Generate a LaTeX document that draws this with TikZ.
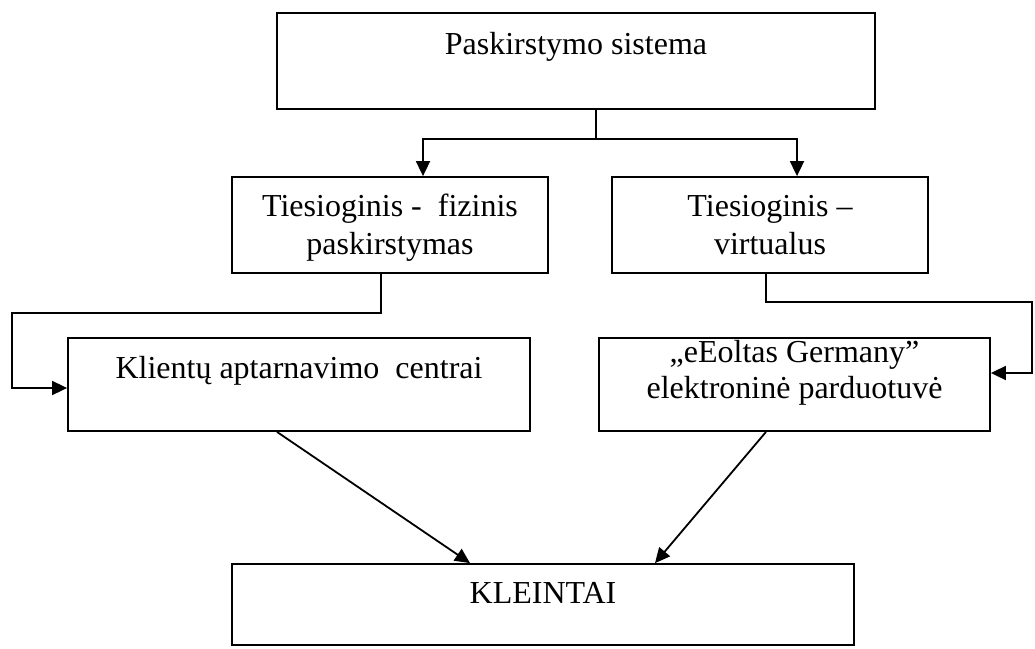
\documentclass[tikz,border=0pt]{standalone}
\usepackage{fontspec}
\setmainfont{Liberation Serif}
\usetikzlibrary{arrows.meta}

\tikzset{
  box/.style={draw, line width=1.8pt, rectangle, inner sep=0pt},
  % multi-line labels sit on the baseline of their last line
  lbl/.style={inner sep=0pt, anchor=base, align=center,
              font=\fontsize{32}{37.5}\selectfont},
  wire/.style={line width=1.8pt},
  arr/.style={line width=1.8pt, -{Triangle[length=15pt,width=14pt]}}
}

\begin{document}
\begin{tikzpicture}[x=1pt,y=-1pt]
\useasboundingbox (0,0) rectangle (1035,648);

% boxes
\node[box, minimum width=598pt, minimum height=96pt] (sys)  at (576,61)    {};
\node[box, minimum width=316pt, minimum height=96pt] (fiz)  at (390,225)   {};
\node[box, minimum width=316pt, minimum height=96pt] (virt) at (770,225)   {};
\node[box, minimum width=462pt, minimum height=93pt] (klc)  at (299,384.5) {};
\node[box, minimum width=391pt, minimum height=93pt] (shop) at (794.5,384.5) {};
\node[box, minimum width=622pt, minimum height=81pt] (kl)   at (543,604.5) {};

% labels
\node[lbl] (sysT)  at (576,54)  {Paskirstymo sistema};
\node[lbl] (fizT)  at (390,254) {Tiesioginis -~ fizinis\\paskirstymas};
\node[lbl] (virtT) at (770,254) {Tiesioginis –\\virtualus};
\node[lbl] (klcT)  at (299,378) {Klientų aptarnavimo~ centrai};
\node[lbl, font=\fontsize{32}{36}\selectfont] (shopT) at (794.5,398)
  {„eEoltas Germany”\\elektroninė parduotuvė};
\node[lbl] (klT)   at (543,603) {KLEINTAI};

% branching from the top box
\coordinate (j1) at (596,139);
\coordinate (aL) at (423,0);
\coordinate (aR) at (797,0);
\draw[wire] (sys.south -| j1) -- (j1);
\draw[arr] (j1) -| (fiz.north -| aL);
\draw[arr] (j1) -| (virt.north -| aR);

% physical branch to the service centres
\coordinate (f1) at (381,313);
\coordinate (f2) at (12,313);
\coordinate (f3) at (12,388);
\draw[arr] (fiz.south -| f1) -- (f1) -- (f2) -- (f3) -- (f3 -| klc.west);

% virtual branch to the e-shop
\coordinate (v1) at (766,302);
\coordinate (v2) at (1032,302);
\coordinate (v3) at (1032,373);
\draw[arr] (virt.south -| v1) -- (v1) -- (v2) -- (v3) -- (v3 -| shop.east);

% both channels lead to the clients
\coordinate (s1) at (277,0);
\coordinate (t1) at (470,0);
\coordinate (s2) at (766,0);
\coordinate (t2) at (655,0);
\draw[arr] (klc.south -| s1) -- (kl.north -| t1);
\draw[arr] (shop.south -| s2) -- (kl.north -| t2);
\end{tikzpicture}
\end{document}
